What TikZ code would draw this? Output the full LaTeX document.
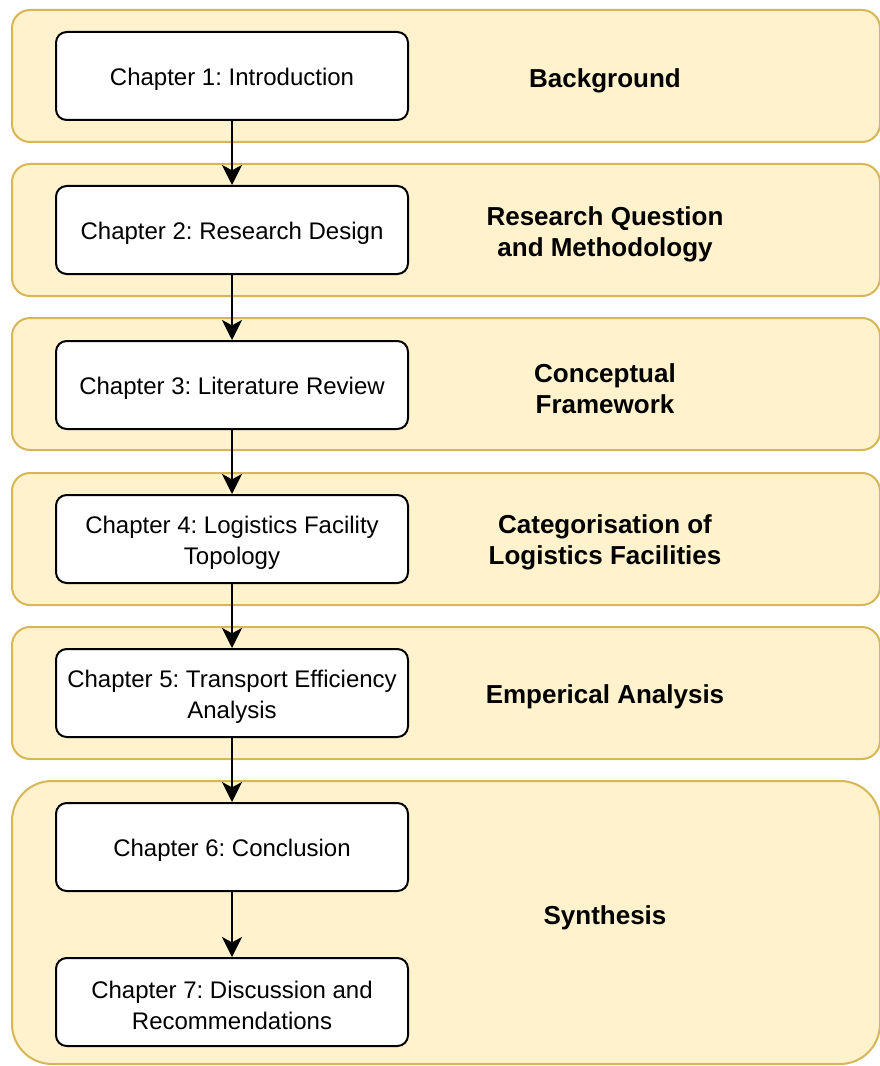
\documentclass[tikz,border=0pt]{standalone}
\usepackage{fontspec}
\setmainfont{Liberation Sans}
\usetikzlibrary{arrows.meta}
\definecolor{bandfill}{HTML}{FFF2CC}
\definecolor{bandline}{HTML}{D6B656}
\frenchspacing
\begin{document}
\begin{tikzpicture}[x=0.75pt,y=-0.75pt,
  band/.style={draw=bandline, fill=bandfill, line width=1.5pt, rounded corners=13.5pt},
  bigband/.style={band, rounded corners=30pt},
  chap/.style={draw=black, fill=white, line width=1.5pt, rounded corners=8pt,
    minimum width=264pt, minimum height=66pt, inner sep=0pt},
  chaptext/.style={align=center, inner sep=0pt, yshift=-2.6pt,
    font=\fontsize{18}{23.25}\selectfont},
  lab/.style={align=center, yshift=-2.6pt, font=\fontsize{19.5}{23.25}\selectfont\bfseries},
  flow/.style={-{Stealth[length=15pt,width=15pt,inset=4pt]}, line width=1.5pt}]
\useasboundingbox (0,0) rectangle (880,1066);
\clip (0,0) rectangle (880,1066);
% bands
\draw[band] (12,10) rectangle (880,142);
\draw[band] (12,164) rectangle (880,296);
\draw[band] (12,318) rectangle (880,450);
\draw[band] (12,473) rectangle (880,605);
\draw[band] (12,627) rectangle (880,759);
\draw[bigband] (12,781) rectangle (880,1064);
% chapters
\node[chap, label={[chaptext]center:Chapter 1: Introduction}] (c1) at (232,76) {};
\node[chap, label={[chaptext]center:Chapter 2: Research Design}] (c2) at (232,230) {};
\node[chap, label={[chaptext]center:Chapter 3: Literature Review}] (c3) at (232,385) {};
\node[chap, label={[chaptext]center:Chapter 4: Logistics Facility\\Topology}] (c4) at (232,539) {};
\node[chap, label={[chaptext]center:Chapter 5: Transport Efficiency\\Analysis}] (c5) at (232,693) {};
\node[chap, label={[chaptext]center:Chapter 6: Conclusion}] (c6) at (232,847) {};
\node[chap, label={[chaptext]center:Chapter 7: Discussion and\\Recommendations}] (c7) at (232,1002) {};
% labels
\node[lab] (l1) at (605,77) {Background};
\node[lab] (l2) at (605,231) {Research Question\\and Methodology};
\node[lab] (l3) at (605,385) {Conceptual\\Framework};
\node[lab] (l4) at (605,539) {Categorisation of\\Logistics Facilities};
\node[lab] (l5) at (605,693) {Emperical Analysis};
\node[lab] (l6) at (605,914) {Synthesis};
% arrows
\draw[flow] (c1.south) -- (c2.north);
\draw[flow] (c2.south) -- (c3.north);
\draw[flow] (c3.south) -- (c4.north);
\draw[flow] (c4.south) -- (c5.north);
\draw[flow] (c5.south) -- (c6.north);
\draw[flow] (c6.south) -- (c7.north);
\end{tikzpicture}
\end{document}
